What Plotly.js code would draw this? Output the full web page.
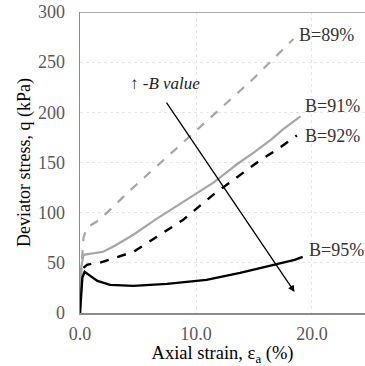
<!DOCTYPE html>
<html><head><meta charset="utf-8">
<script src="https://cdn.plot.ly/plotly-3.0.1.min.js"></script>
<style>body{margin:0;background:#fff}#c{width:365px;height:366px}</style>
</head><body><div id="c"></div>
<script>
const x89 = [0, 0.15, 0.3, 0.6, 1.0, 1.7, 4.3, 9.7, 14.9, 18.4];
const y89 = [0, 50, 75, 85, 88, 93, 122, 179, 233, 273];
const x91 = [0, 0.1, 0.3, 1.0, 2.0, 3.0, 4.6, 6.5, 8.9, 11.5, 12.5, 13.5, 15.0, 16.5, 17.5, 19.0];
const y91 = [0, 45, 58, 59, 61, 67, 78, 93, 111, 130, 139, 148, 160, 173, 183, 196];
const x92 = [0.3, 0.6, 1.0, 1.7, 3.0, 4.6, 6.5, 8.9, 11.5, 13.5, 15.5, 17.0, 18.7];
const y92 = [45, 48, 49, 50, 55, 61, 75, 93, 118, 135, 152, 163, 177];
const x95 = [0, 0.1, 0.2, 0.4, 0.8, 1.5, 2.6, 4.6, 7.5, 10.9, 13.8, 16.1, 17.5, 18.5, 19.2];
const y95 = [0, 25, 35, 41, 38, 32, 28, 27, 29, 33, 40, 46, 50, 53, 56];
const labels = ["B=89%", "B=91%", "B=92%", "B=95%"];
const labelX = [18.75, 19.2, 19.25, 19.6];
const labelY = [277, 206, 176, 63];
const yTicks = [0, 50, 100, 150, 200, 250, 300];
const xTicks = [0, 10, 20];
const xTickText = ["0.0", "10.0", "20.0"];

const font = "Liberation Serif";
const traces = [
  {x: x89, y: y89, mode: "lines", line: {color: "#a6a6a6", width: 2.2, dash: "dash"}},
  {x: x91, y: y91, mode: "lines", line: {color: "#a6a6a6", width: 2.2}},
  {x: x92, y: y92, mode: "lines", line: {color: "#000", width: 2.4, dash: "dash"}},
  {x: x95, y: y95, mode: "lines", line: {color: "#000", width: 2.4}}
];
const ann = labels.map((t, i) => ({
  x: labelX[i], y: labelY[i], xref: "x", yref: "y", text: t, showarrow: false,
  xanchor: "left", yanchor: "middle", font: {family: font, size: 18, color: "#333"}
}));
ann.push({x: 18.5, y: 21, ax: 7.2, ay: 214, xref: "x", yref: "y", axref: "x", ayref: "y",
  text: " ", showarrow: true, arrowhead: 2, arrowsize: 1, arrowwidth: 1.3, arrowcolor: "#000"});
ann.push({x: 7.3, y: 229, xref: "x", yref: "y", text: "↑ <i>-B value</i>", showarrow: false,
  font: {family: font, size: 17, color: "#222"}});

const layout = {
  width: 365, height: 366,
  margin: {l: 80, r: 0, t: 12, b: 53},
  paper_bgcolor: "#fff", plot_bgcolor: "#fff",
  showlegend: false,
  font: {family: font},
  xaxis: {
    range: [0, 24.57], tickvals: xTicks, ticktext: xTickText,
    showgrid: true, gridcolor: "#e6e6e6", griddash: "dot", gridwidth: 1,
    zeroline: false, showline: true, linecolor: "#8c8c8c", linewidth: 1.5,
    ticks: "", ticklabelstandoff: 4, tickfont: {family: font, size: 18, color: "#595959"},
    title: {text: "Axial strain, ε<sub>a</sub> (%)", font: {family: font, size: 18.5, color: "#000"}, standoff: 0}
  },
  yaxis: {
    range: [0, 300], tickvals: yTicks,
    showgrid: true, gridcolor: "#e6e6e6", griddash: "dot", gridwidth: 1,
    zeroline: false, showline: true, linecolor: "#8c8c8c", linewidth: 1.5,
    ticks: "", ticklabelstandoff: 10, tickfont: {family: font, size: 18, color: "#595959"},
    title: {text: "Deviator stress, q (kPa)", font: {family: font, size: 18, color: "#000"}, standoff: 2}
  },
  shapes: [{type: "line", xref: "paper", yref: "y", x0: 0, x1: 1, y0: 300, y1: 300,
    line: {color: "#8c8c8c", width: 1.5}}],
  annotations: ann
};
Plotly.newPlot("c", traces, layout, {displayModeBar: false, staticPlot: true});
</script></body></html>
